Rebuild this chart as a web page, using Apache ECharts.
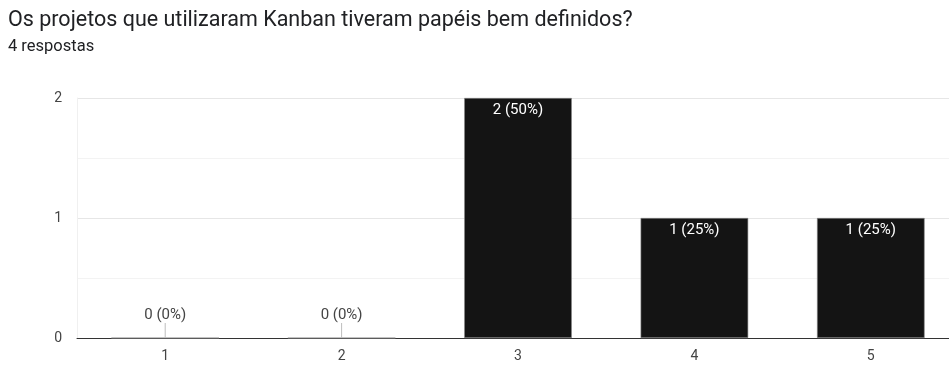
<!DOCTYPE html>
<html>
<head>
<meta charset="utf-8">
<script src="https://cdn.jsdelivr.net/npm/echarts@6/dist/echarts.min.js"></script>
<style>
  html, body { margin: 0; padding: 0; background: #fff; overflow: hidden; }
  #chart { width: 959px; height: 365px; }
</style>
</head>
<body>
<div id="chart"></div>
<script>
// Survey answers: scale 1-5, number of responses per option
const categories = ['1', '2', '3', '4', '5'];
const counts = [0, 0, 2, 1, 1];
const totalResponses = 4;
const yTicks = [0, 1, 2];

const FONT = 'Roboto, Arial, sans-serif';
const chart = echarts.init(document.getElementById('chart'));

function labelText(v) {
  return v + ' (' + Math.round(v / totalResponses * 100) + '%)';
}

// Empty options get their label above the axis with a short leader line
function renderZeroLabel(params, api) {
  const v = api.value(1);
  if (v !== 0) return null;
  const p = api.coord([api.value(0), v]);
  return {
    type: 'group',
    children: [{
      type: 'line',
      shape: { x1: p[0], y1: p[1], x2: p[0], y2: p[1] - 15 },
      style: { stroke: '#bdbdbd', lineWidth: 1 }
    }, {
      type: 'text',
      x: p[0], y: p[1] - 15,
      style: {
        text: labelText(v),
        fill: '#444',
        font: '15px ' + FONT,
        align: 'center',
        verticalAlign: 'bottom'
      }
    }]
  };
}

chart.setOption({
  animation: false,
  textStyle: { fontFamily: FONT },
  title: [{
    text: 'Os projetos que utilizaram Kanban tiveram papéis bem definidos?',
    left: 3, top: 5,
    textStyle: { fontSize: 21.5, fontWeight: 'normal', color: '#202124', fontFamily: FONT }
  }, {
    text: totalResponses + ' respostas',
    left: 3, top: 33,
    textStyle: { fontSize: 16.5, fontWeight: 'normal', color: '#202124', fontFamily: FONT }
  }],
  grid: { left: 77, top: 98, width: 882, height: 240, containLabel: false },
  xAxis: {
    type: 'category',
    data: categories,
    axisLine: { lineStyle: { color: '#333', width: 1 } },
    axisTick: { show: false },
    axisLabel: { color: '#444', fontSize: 14, margin: 11 }
  },
  yAxis: {
    type: 'value',
    min: yTicks[0],
    max: yTicks[yTicks.length - 1],
    interval: 1,
    axisLine: { show: true, lineStyle: { color: '#f0f0f0' } },
    axisTick: { show: false },
    axisLabel: { color: '#444', fontSize: 14, margin: 15 },
    splitLine: { lineStyle: { color: '#e6e6e6' } },
    minorTick: { show: false, splitNumber: 2 },
    minorSplitLine: { show: true, lineStyle: { color: '#f3f3f3' } }
  },
  series: [{
    type: 'bar',
    data: counts,
    barWidth: '61%',
    itemStyle: { color: '#141414', borderColor: '#888', borderWidth: 0.6 },
    label: {
      show: true,
      position: 'insideTop',
      distance: 5,
      color: '#fff',
      fontSize: 15,
      formatter: function (p) { return p.value > 0 ? labelText(p.value) : ''; }
    }
  }, {
    type: 'custom',
    data: counts.map(function (v, i) { return [i, v]; }),
    encode: { x: 0, y: 1 },
    renderItem: renderZeroLabel,
    silent: true,
    z: 3
  }]
});
</script>
</body>
</html>
